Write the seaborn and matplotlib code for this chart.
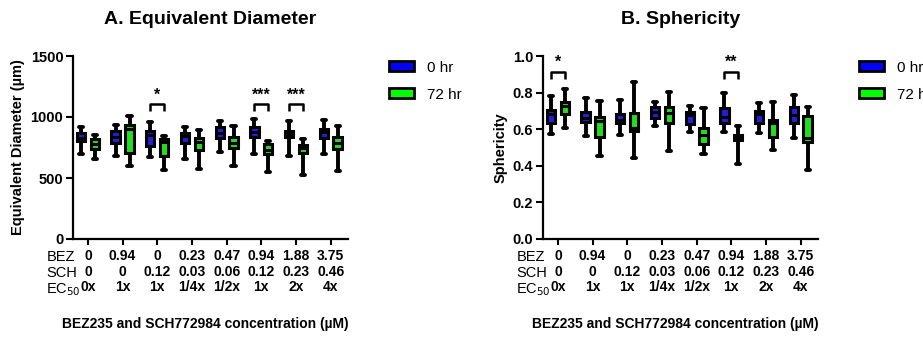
import numpy as np
import pandas as pd
import seaborn as sns
import matplotlib.pyplot as plt
from matplotlib.patches import Patch

# x categories (three label rows under each group)
bez = ['0', '0.94', '0', '0.23', '0.47', '0.94', '1.88', '3.75']
sch = ['0', '0', '0.12', '0.03', '0.06', '0.12', '0.23', '0.46']
ec50 = ['0x', '1x', '1x', '1/4x', '1/2x', '1x', '2x', '4x']
times = ['0 hr', '72 hr']

# five-number summaries: min, q1, median, q3, max
diam_0hr = [[693, 805, 830, 865, 914], [677, 783, 837, 884, 938],
            [672, 765, 852, 885, 962], [656, 789, 844, 872, 918],
            [716, 830, 866, 915, 967], [694, 833, 880, 921, 986],
            [680, 833, 861, 885, 967], [694, 825, 875, 899, 975]]
diam_72hr = [[655, 734, 777, 821, 851], [598, 707, 899, 934, 1011],
             [563, 680, 798, 817, 847], [574, 730, 798, 826, 893],
             [596, 743, 790, 833, 926], [547, 697, 730, 776, 803],
             [522, 702, 746, 770, 817], [555, 735, 784, 838, 926]]
spher_0hr = [[0.572, 0.636, 0.683, 0.705, 0.780], [0.561, 0.639, 0.663, 0.692, 0.772],
             [0.570, 0.636, 0.650, 0.681, 0.760], [0.619, 0.660, 0.696, 0.720, 0.750],
             [0.583, 0.628, 0.678, 0.696, 0.727], [0.583, 0.632, 0.668, 0.714, 0.800],
             [0.577, 0.632, 0.683, 0.701, 0.741], [0.550, 0.632, 0.678, 0.723, 0.787]]
spher_72hr = [[0.608, 0.683, 0.729, 0.747, 0.818], [0.455, 0.557, 0.647, 0.665, 0.754],
              [0.444, 0.590, 0.605, 0.690, 0.858], [0.479, 0.632, 0.687, 0.723, 0.801],
              [0.463, 0.517, 0.568, 0.605, 0.714], [0.408, 0.541, 0.556, 0.570, 0.619],
              [0.486, 0.559, 0.632, 0.650, 0.750], [0.377, 0.532, 0.553, 0.672, 0.723]]

diam_sig = ['', '', '*', '', '', '***', '***', '']
spher_sig = ['*', '', '', '', '', '**', '', '']

colors = {'0 hr': '#0000ff', '72 hr': '#00ff00'}

sns.set_style('ticks')
plt.rcParams['font.family'] = ['Liberation Sans', 'DejaVu Sans']
plt.rcParams.update({'text.color': 'black', 'axes.labelcolor': 'black',
                     'xtick.color': 'black', 'ytick.color': 'black',
                     'axes.edgecolor': 'black'})

xlabels = [f'{b}\n{s}\n{e}' for b, s, e in zip(bez, sch, ec50)]


def long_df(s0, s72):
    rows = []
    for i in range(len(bez)):
        for t, s in zip(times, [s0, s72]):
            for v in s[i]:
                rows.append((xlabels[i], t, v))
    return pd.DataFrame(rows, columns=['group', 'time', 'value'])


fig = plt.figure(figsize=(9.23, 3.38), dpi=100)
axA = fig.add_axes([73 / 923, 1 - 239 / 338, 275 / 923, 183 / 338])
axB = fig.add_axes([543 / 923, 1 - 239 / 338, 275 / 923, 183 / 338])

panels = [
    (axA, diam_0hr, diam_72hr, diam_sig, 'A. Equivalent Diameter',
     'Equivalent Diameter (µm)', (0, 1500), [0, 500, 1000, 1500], '{:.0f}', 1105, 1050, 1175),
    (axB, spher_0hr, spher_72hr, spher_sig, 'B. Sphericity',
     'Sphericity', (0, 1.0), [0, 0.2, 0.4, 0.6, 0.8, 1.0], '{:.1f}', 0.915, 0.875, 0.965),
]

for ax, s0, s72, sig, title, ylab, ylim, yt, fmt, br_y, br_leg, st_y in panels:
    df = long_df(s0, s72)
    sns.boxplot(data=df, x='group', y='value', hue='time', hue_order=times,
                palette=colors, whis=(0, 100), width=0.8, gap=0.4,
                linewidth=2.2, linecolor='black', showfliers=False,
                legend=False, ax=ax,
                whiskerprops={'linewidth': 2.8}, capprops={'linewidth': 2.8})
    ax.set_ylim(*ylim)
    ax.set_xlim(-0.43, 7.5)
    ax.set_yticks(yt)
    ax.set_yticklabels([fmt.format(v) for v in yt], fontweight='bold', fontsize=10.5)
    ax.set_xticks(range(len(xlabels)))
    ax.set_xticklabels(xlabels, fontweight='bold', fontsize=10, linespacing=1.14)
    ax.tick_params(axis='x', length=4, width=1.5, pad=3.5)
    ax.tick_params(axis='y', length=5, width=1.5, pad=2)
    for sp in ['left', 'bottom']:
        ax.spines[sp].set_linewidth(1.6)
    sns.despine(ax=ax)
    ax.set_xlabel('')
    ax.set_ylabel(ylab, fontweight='bold', fontsize=10.5, labelpad=4)
    ax.set_title(title, fontweight='bold', fontsize=14, pad=23)

    # significance brackets between 0 hr and 72 hr boxes
    for i, s in enumerate(sig):
        if s:
            ax.plot([i - 0.2, i - 0.2, i + 0.2, i + 0.2], [br_leg, br_y, br_y, br_leg],
                    color='black', lw=1.8, solid_capstyle='butt')
            ax.text(i, st_y, s, ha='center', va='center', fontsize=11.5, fontweight='bold')

    # row labels of the x table
    for k, lab in enumerate(['BEZ', 'SCH', 'EC$_{50}$']):
        ax.text(-0.097, -0.1 - k * 0.088, lab, transform=ax.transAxes,
                ha='left', va='center', fontsize=10.5)

    ax.text(0.48, -0.465, 'BEZ235 and SCH772984 concentration (µM)', transform=ax.transAxes,
            ha='center', va='center', fontsize=10, fontweight='bold')

    handles = [Patch(facecolor=colors[t], edgecolor='black', linewidth=2) for t in times]
    ax.legend(handles, times, loc='upper left', bbox_to_anchor=(1.1, 1.05), frameon=False,
              handlelength=1.6, handleheight=0.6, fontsize=11, labelspacing=0.85,
              handletextpad=0.9)

fig.savefig('out.png', dpi=100)
